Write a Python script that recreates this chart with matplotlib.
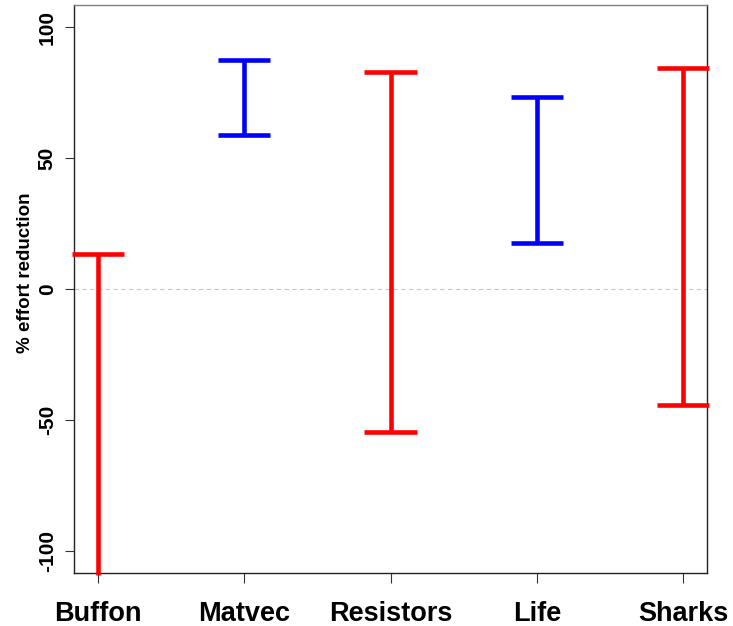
import matplotlib
matplotlib.use('Agg')
import matplotlib.pyplot as plt

plt.rcParams['font.family'] = ['Liberation Sans', 'DejaVu Sans']

names = ['Buffon', 'Matvec', 'Resistors', 'Life', 'Sharks']
low = [-109, 58.8, -54.6, 17.6, -44.3]
high = [13.4, 87.4, 82.8, 73.3, 84.4]
colors = ['red', 'blue', 'red', 'blue', 'red']

fig = plt.figure(figsize=(7.33, 6.26), dpi=100)
ax = fig.add_axes([0.101, 0.0845, 0.8635, 0.9075])

ax.axhline(0, color='#c8c8c8', linestyle=(0, (4, 3)), linewidth=0.8, zorder=1)

cap = 0.178
lw = 3.3
for i, (lo, hi, c) in enumerate(zip(low, high, colors)):
    x = i + 1
    ax.plot([x, x], [lo, hi], color=c, linewidth=lw, clip_on=False, solid_capstyle='butt', zorder=3)
    ax.plot([x - cap, x + cap], [hi, hi], color=c, linewidth=lw, clip_on=False, solid_capstyle='butt', zorder=3)
    if lo > -108:
        ax.plot([x - cap, x + cap], [lo, lo], color=c, linewidth=lw, clip_on=False, solid_capstyle='butt', zorder=3)

ax.set_xlim(0.836, 5.164)
ax.set_ylim(-108.4, 108.4)

ax.set_xticks(range(1, 6))
ax.set_xticklabels(names, fontsize=19.5, fontweight='bold')
ax.set_yticks([-100, -50, 0, 50, 100])
ax.set_yticklabels(['-100', '-50', '0', '50', '100'], fontsize=15, fontweight='bold', rotation=90, va='center')
ax.tick_params(axis='x', length=7, width=0.8, color='#333333', pad=13)
ax.tick_params(axis='y', length=6.5, width=0.8, color='#333333', pad=6)
ax.set_ylabel('% effort reduction', fontsize=13.5, fontweight='bold')
ax.yaxis.set_label_coords(-0.064, 0.528)

for s in ax.spines.values():
    s.set_linewidth(1.0)
    s.set_color('#222222')
ax.spines['top'].set_color('#808080')

fig.savefig('out.png', dpi=100)
